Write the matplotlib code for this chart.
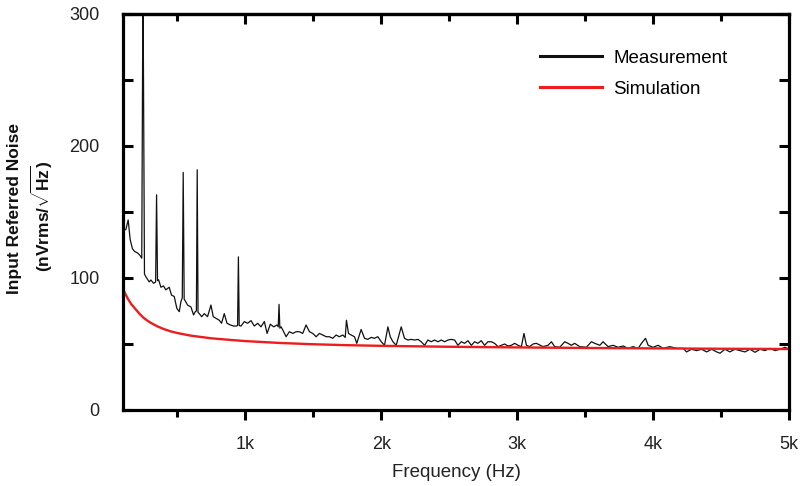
import matplotlib
matplotlib.use('Agg')
import matplotlib.pyplot as plt
from matplotlib.ticker import FixedLocator

plt.rcParams['font.family'] = ['Liberation Sans', 'DejaVu Sans']
plt.rcParams['mathtext.fontset'] = 'custom'
plt.rcParams['mathtext.rm'] = 'Liberation Sans'
plt.rcParams['mathtext.bf'] = 'Liberation Sans:bold'

# ---- data ----
meas_freq = [100, 110, 122, 138, 153, 170, 187, 207, 226, 238, 247, 258, 268, 293, 305, 325,
             340, 347, 354, 362, 379, 398, 415, 440, 457, 477, 496, 514, 526, 536, 543, 550,
             556, 575, 600, 619, 632, 640, 646, 652, 661, 679, 698, 722, 747, 764, 784, 808,
             825, 845, 865, 890, 914, 934, 943, 949, 955, 968, 993, 1017, 1042, 1066, 1091,
             1115, 1140, 1160, 1184, 1209, 1233, 1242, 1248, 1254, 1263, 1276, 1300, 1324,
             1349, 1374, 1398, 1422, 1447, 1472, 1496, 1521, 1545, 1570, 1595, 1619, 1643,
             1668, 1692, 1717, 1735, 1744, 1759, 1779, 1803, 1820, 1852, 1877, 1901, 1926,
             1950, 1975, 2000, 2024, 2049, 2066, 2086, 2110, 2147, 2171, 2196, 2220, 2245,
             2270, 2294, 2319, 2343, 2368, 2392, 2417, 2442, 2466, 2491, 2515, 2540, 2564,
             2589, 2613, 2638, 2663, 2687, 2711, 2736, 2760, 2785, 2810, 2834, 2859, 2884,
             2908, 2932, 2957, 2982, 3006, 3031, 3050, 3068, 3092, 3117, 3141, 3190, 3227,
             3252, 3276, 3313, 3350, 3374, 3399, 3423, 3460, 3509, 3546, 3571, 3608, 3632,
             3669, 3706, 3743, 3780, 3816, 3853, 3890, 3915, 3944, 3964, 4000, 4037, 4074,
             4123, 4172, 4222, 4246, 4283, 4320, 4357, 4394, 4431, 4468, 4492, 4529, 4565,
             4602, 4639, 4676, 4713, 4750, 4787, 4823, 4860, 4897, 4934, 4971, 5000]
meas_val = [130, 136, 137, 144, 129, 122, 120, 119, 117, 115, 330, 103, 101, 97, 98.5, 96,
            97, 163, 98, 98.6, 93, 94, 91, 93, 87, 86, 77, 74.5, 82, 85, 180, 84,
            83, 79.5, 78, 72, 74.5, 75, 182, 74, 73, 70.7, 73, 70.7, 79.5, 70.7, 69.5, 68,
            65.7, 73, 65.7, 64.4, 63.6, 63.6, 64, 116, 64, 63.6, 67, 65.7, 67.7, 63.6, 65.7,
            63, 67, 58, 65, 63, 64.4, 63, 80, 62, 63, 60.6, 55.5, 59.3,
            58, 59.3, 59.3, 58, 64.4, 59.3, 58, 55.5, 58, 56.8, 55.5, 55.5, 54.3,
            56.8, 55.5, 56.8, 55, 68, 58, 56.8, 55.5, 50.5, 61, 54.3, 53.5, 55,
            54.3, 55.5, 51.7, 49, 63, 55.5, 51.7, 49, 63, 54.3, 53, 53.5, 53,
            53.5, 51.7, 49, 53, 51.7, 53, 51.7, 53, 51.7, 53, 53.5, 53, 49,
            51.7, 50.5, 52.5, 49, 51.7, 50.5, 52.5, 49, 51.7, 51.7, 50.5, 48, 49,
            50, 48.5, 49, 50.5, 49, 48, 58, 49, 48, 50, 50.5, 48, 49,
            51.7, 48, 47.5, 51.7, 50.5, 49, 50.5, 48, 47.5, 51.7, 50.5, 49, 51.7,
            48, 49, 47.5, 48.5, 46.7, 48, 46.7, 50.5, 54.3, 49, 47.5, 49, 46.7,
            48, 46.7, 46.7, 44, 46, 45, 46, 44, 46, 44, 43, 46, 44,
            46, 45, 44, 46, 43.7, 46, 45, 46.7, 45, 46, 47.5, 46]

sim_freq = [100, 112, 125, 137, 150, 162, 175, 187, 200, 225, 250, 275, 300, 350, 400, 450,
            500, 600, 750, 900, 1000, 1250, 1500, 1750, 2000, 2500, 3000, 3500, 4000, 4500, 5000]
sim_val = [92, 89, 86.5, 84, 82, 80, 78.5, 77, 75.5, 72.5, 70, 68, 66.3, 63.5, 61.3, 59.6,
           58.3, 56.3, 54.3, 53, 52.2, 50.8, 49.8, 49.1, 48.6, 47.9, 47.4, 47.0, 46.7, 46.4, 46.2]

x_ticks = [1000, 2000, 3000, 4000, 5000]
x_tick_labels = ['1k', '2k', '3k', '4k', '5k']
x_minor = [500, 1500, 2500, 3500, 4500]
y_ticks = [0, 100, 200, 300]
y_minor = [50, 150, 250]

# ---- figure ----
fig = plt.figure(figsize=(8, 4.86), dpi=100)
ax = fig.add_axes([0.15375, 0.1564, 0.8325, 0.8148])

ax.plot(meas_freq, meas_val, color='#111111', lw=0.9, label='Measurement')
ax.plot(sim_freq, sim_val, color='#ee1c1c', lw=1.7, label='Simulation')

ax.set_xlim(100, 5000)
ax.set_ylim(0, 300)

for s in ax.spines.values():
    s.set_linewidth(2.3)
    s.set_color('black')

ax.xaxis.set_major_locator(FixedLocator(x_ticks))
ax.set_xticklabels(x_tick_labels)
ax.xaxis.set_minor_locator(FixedLocator(x_minor))
ax.yaxis.set_major_locator(FixedLocator(y_ticks))
ax.yaxis.set_minor_locator(FixedLocator(y_minor))

ax.tick_params(axis='x', which='both', direction='out', top=False, labelsize=13,
               labelcolor='#222222', pad=12, width=2.2)
ax.tick_params(axis='x', which='major', length=7)
ax.tick_params(axis='x', which='minor', length=5)
ax.tick_params(axis='y', which='both', direction='in', right=True, labelsize=13,
               labelcolor='#222222', pad=17, width=2.2, length=7)

sec = ax.secondary_xaxis('top')
sec.xaxis.set_major_locator(FixedLocator(x_ticks))
sec.xaxis.set_minor_locator(FixedLocator(x_minor))
sec.tick_params(axis='x', which='both', direction='in', labeltop=False, width=2.2)
sec.tick_params(axis='x', which='major', length=7)
sec.tick_params(axis='x', which='minor', length=5)
sec.spines['top'].set_linewidth(2.3)

ax.set_xlabel('Frequency (Hz)', fontsize=13.5, color='#222222', labelpad=8)

fig.text(0.018, 0.57, 'Input Referred Noise', rotation=90, fontsize=12.5, fontweight='bold',
         ha='center', va='center', color='#111111')
fig.text(0.053, 0.555, r'(nVrms/$\sqrt{\mathbf{Hz}}$)', rotation=90, fontsize=12.5,
         fontweight='bold', ha='center', va='center', color='#111111')

leg = ax.legend(loc='upper left', bbox_to_anchor=(0.626, 0.91), frameon=False, fontsize=13.5,
                handlelength=3.3, handletextpad=0.6, labelspacing=0.75, borderpad=0,
                borderaxespad=0)
for h in leg.get_lines():
    h.set_linewidth(2.2)

fig.savefig('out.png', dpi=100)
